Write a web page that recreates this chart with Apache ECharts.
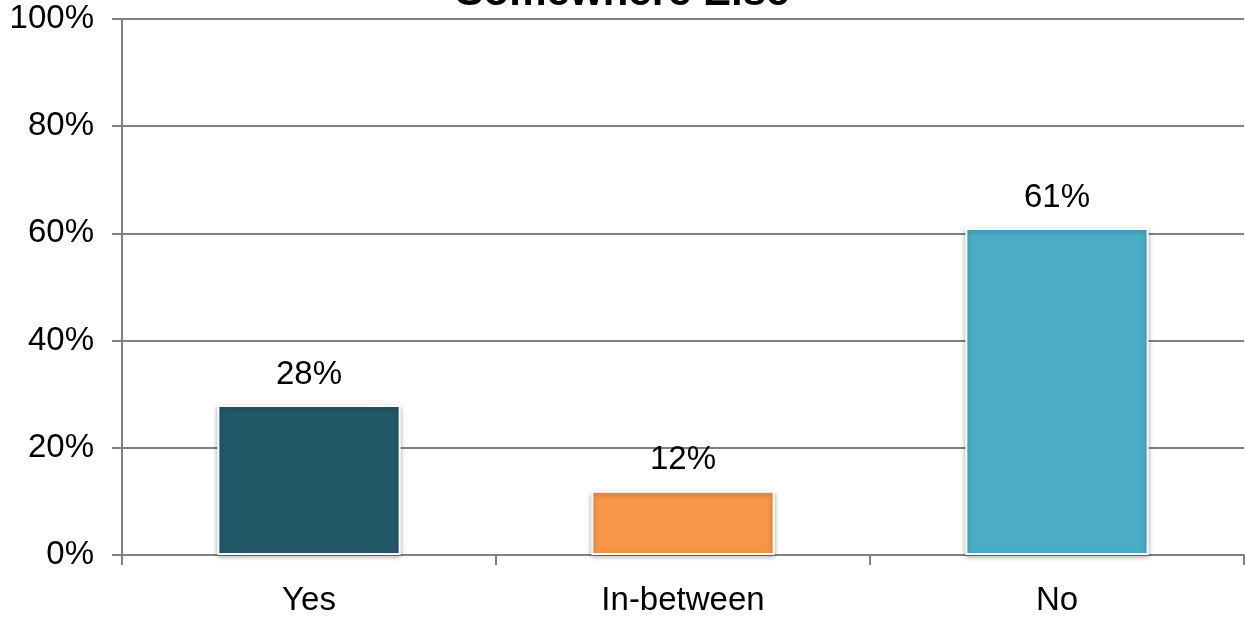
<!DOCTYPE html>
<html>
<head>
<meta charset="utf-8">
<script src="https://cdn.jsdelivr.net/npm/echarts@6/dist/echarts.min.js"></script>
<style>html,body{margin:0;padding:0;background:#fff}#c{width:1245px;height:617px}</style>
</head>
<body>
<div id="c"></div>
<script>
const categories = ['Yes', 'In-between', 'No'];
const values = [28, 12, 61];
const barColors = ['#225868', '#F79646', '#4BACC6'];
const yTicks = [0, 20, 40, 60, 80, 100];
const titleText = 'Somewhere Else';

const chart = echarts.init(document.getElementById('c'));
const font = '"Liberation Sans", Arial, sans-serif';
chart.setOption({
  animation: false,
  title: {
    text: titleText, left: 'center', top: -33,
    textStyle: { fontFamily: font, fontSize: 42, fontWeight: 'bold', color: '#000' }
  },
  grid: { left: 122, right: 1, top: 19, bottom: 60, containLabel: false },
  xAxis: {
    type: 'category', data: categories,
    axisLine: { lineStyle: { color: '#808080', width: 2 } },
    axisTick: { show: true, length: 10, alignWithLabel: false, lineStyle: { color: '#808080', width: 2 } },
    axisLabel: { fontFamily: font, fontSize: 33, color: '#000', margin: 29 }
  },
  yAxis: {
    type: 'value', min: yTicks[0], max: yTicks[yTicks.length - 1], interval: 20,
    axisLine: { show: true, lineStyle: { color: '#808080', width: 2 } },
    axisTick: { show: true, length: 10, lineStyle: { color: '#808080', width: 2 } },
    splitLine: { lineStyle: { color: '#808080', width: 2 } },
    axisLabel: { fontFamily: font, fontSize: 33, color: '#000', margin: 28, formatter: '{value}%' }
  },
  series: [{
    type: 'bar',
    barWidth: '49%',
    data: values.map((v, i) => ({ value: v, itemStyle: { color: barColors[i] } })),
    itemStyle: {
      borderColor: '#fff', borderWidth: 2,
      shadowColor: 'rgba(0,0,0,0.3)', shadowBlur: 5, shadowOffsetY: 2
    },
    label: {
      show: true, position: 'top', distance: 14, formatter: '{c}%',
      fontFamily: font, fontSize: 33, color: '#000'
    }
  }]
});
</script>
</body>
</html>
